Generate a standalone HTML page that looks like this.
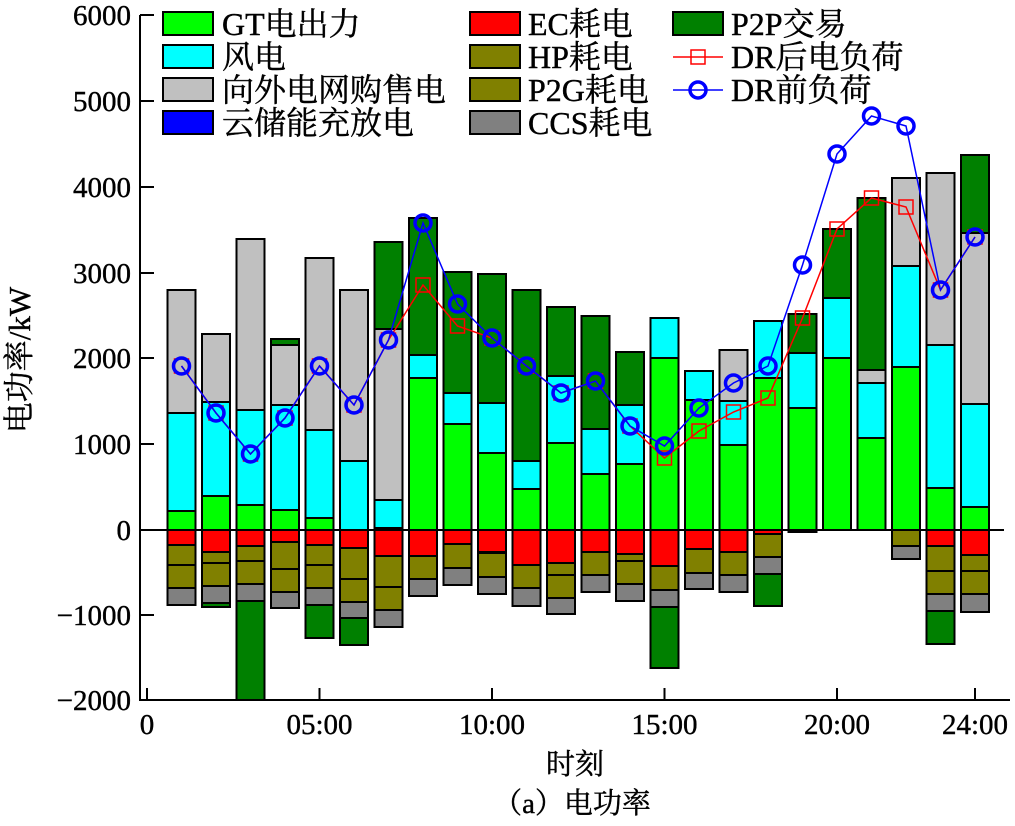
<!DOCTYPE html>
<html><head><meta charset="utf-8"><style>
html,body{margin:0;padding:0;background:#fff;}
svg text{font-family:"Liberation Serif","Noto Serif CJK SC","Noto Sans CJK SC",serif;fill:#000;}
</style></head><body>
<svg id="s" width="1015" height="821" xmlns="http://www.w3.org/2000/svg">
<g id="bars"></g>
<g id="lines"></g>
<line x1="140" y1="15" x2="140" y2="701" stroke="#000" stroke-width="2"/>
<line x1="139" y1="700" x2="1010" y2="700" stroke="#000" stroke-width="2"/>
<line x1="140" y1="530" x2="1004" y2="530" stroke="#000" stroke-width="2"/>
<g stroke="#000" stroke-width="2">
<line x1="140" y1="15" x2="154" y2="15"/>
<line x1="140" y1="101" x2="154" y2="101"/>
<line x1="140" y1="187" x2="154" y2="187"/>
<line x1="140" y1="273" x2="154" y2="273"/>
<line x1="140" y1="358" x2="154" y2="358"/>
<line x1="140" y1="444" x2="154" y2="444"/>
<line x1="140" y1="615" x2="154" y2="615"/>
<line x1="147" y1="688" x2="147" y2="700"/>
<line x1="319.5" y1="688" x2="319.5" y2="700"/>
<line x1="492" y1="688" x2="492" y2="700"/>
<line x1="664.5" y1="688" x2="664.5" y2="700"/>
<line x1="837" y1="688" x2="837" y2="700"/>
<line x1="975" y1="688" x2="975" y2="700"/>
</g>
<g font-size="29" text-anchor="end" stroke="#000" stroke-width="0.4">
<text x="131" y="25">6000</text>
<text x="131" y="111">5000</text>
<text x="131" y="197">4000</text>
<text x="131" y="283">3000</text>
<text x="131" y="368">2000</text>
<text x="131" y="454">1000</text>
<text x="131" y="540">0</text>
<text x="131" y="625">−1000</text>
<text x="131" y="710">−2000</text>
</g>
<g font-size="29" text-anchor="middle" stroke="#000" stroke-width="0.4">
<text x="147" y="734">0</text>
<text x="319.5" y="734">05:00</text>
<text x="492" y="734">10:00</text>
<text x="664.5" y="734">15:00</text>
<text x="837" y="734">20:00</text>
<text x="975" y="734">24:00</text>
<text x="575" y="774">时刻</text>
<text x="572" y="813">（a）电功率</text>
</g>
<text font-size="31" text-anchor="middle" stroke="#000" stroke-width="0.4" transform="translate(30,360) rotate(-90)">电功率/kW</text>
<g stroke="#000" stroke-width="2">
<rect x="163" y="12" width="50" height="23" fill="#00ff00"/>
<rect x="163" y="45" width="50" height="23" fill="#00ffff"/>
<rect x="163" y="78" width="50" height="23" fill="#c0c0c0"/>
<rect x="163" y="111" width="50" height="23" fill="#0000ff"/>
<rect x="470" y="12" width="50" height="23" fill="#ff0000"/>
<rect x="470" y="45" width="50" height="23" fill="#808000"/>
<rect x="470" y="78" width="50" height="23" fill="#808000"/>
<rect x="470" y="111" width="50" height="23" fill="#808080"/>
<rect x="673" y="12" width="50" height="23" fill="#008000"/>
</g>
<line x1="673" y1="57" x2="723" y2="57" stroke="#f00" stroke-width="1.5"/>
<rect x="691" y="50" width="14" height="14" fill="none" stroke="#f00" stroke-width="1.5"/>
<line x1="673" y1="90" x2="723" y2="90" stroke="#00f" stroke-width="1.5"/>
<circle cx="698" cy="90" r="8" fill="none" stroke="#00f" stroke-width="3.5"/>
<g font-size="32" stroke="#000" stroke-width="0.4">
<text x="222" y="35">GT电出力</text>
<text x="222" y="68">风电</text>
<text x="222" y="101">向外电网购售电</text>
<text x="222" y="134">云储能充放电</text>
<text x="528" y="35">EC耗电</text>
<text x="528" y="68">HP耗电</text>
<text x="528" y="101">P2G耗电</text>
<text x="528" y="134">CCS耗电</text>
<text x="731" y="35">P2P交易</text>
<text x="731" y="68">DR后电负荷</text>
<text x="731" y="101">DR前负荷</text>
</g>
</svg>
<script>
var pos=[[511,413,290,290],[496,402,334,334],[505,410,239,239],[510,405,345,339],[518,430,258,258],[530,461,290,290],[528,500,329,242],[378,355,355,218],[424,393,393,272],[453,403,403,274],[489,461,461,290],[443,376,376,307],[474,429,429,316],[464,405,405,352],[358,318,318,318],[400,371,371,371],[445,401,350,350],[378,321,321,321],[408,353,353,314],[358,298,298,229],[438,383,370,198],[367,266,178,178],[488,345,173,173],[507,404,233,155]];
var neg=[[545,565,588,605,605],[552,563,586,603,607],[546,561,584,601,700],[542,569,592,608,608],[545,565,588,605,638],[548,579,602,618,645],[556,587,610,627,627],[556,579,579,596,596],[544,568,568,585,585],[552,553,577,594,594],[565,588,588,606,606],[563,575,598,614,614],[552,575,575,592,592],[554,561,584,601,601],[566,590,590,607,668],[549,573,573,589,589],[552,575,575,592,592],[534,557,557,574,606],[530,530,530,530,532],[530,530,530,530,530],[530,530,530,530,530],[530,546,546,559,559],[546,571,594,611,644],[555,571,594,612,612]];
var pc=["#00ff00","#00ffff","#c0c0c0","#008000"],nc=["#ff0000","#808000","#808000","#808080","#008000"];
var blue=[366,413,454,418,366,405,340,223,304,338,366,393,381,426,446,408,383,366,265,154,116,126,290,237];
var red=[366,413,454,418,366,405,340,285,326,338,366,393,381,426,458,431,412,398,318,229,198,207,290,237];
var NS="http://www.w3.org/2000/svg",b=document.getElementById("bars"),l=document.getElementById("lines");
function R(x,y1,y2,c){if(Math.abs(y2-y1)<0.5)return;var r=document.createElementNS(NS,"rect");r.setAttribute("x",x);r.setAttribute("y",Math.min(y1,y2));r.setAttribute("width",28);r.setAttribute("height",Math.abs(y2-y1));r.setAttribute("fill",c);r.setAttribute("stroke","#000");r.setAttribute("stroke-width","2");b.appendChild(r);}
for(var i=0;i<24;i++){var cx=147+(i+1)*34.5,x=cx-14,p=530;for(var k=0;k<4;k++){R(x,p,pos[i][k],pc[k]);p=pos[i][k];}p=530;for(k=0;k<5;k++){R(x,p,neg[i][k],nc[k]);p=neg[i][k];}}
function line(arr,c){var pts=arr.map(function(y,i){return (147+(i+1)*34.5)+","+y}).join(" ");var pl=document.createElementNS(NS,"polyline");pl.setAttribute("points",pts);pl.setAttribute("fill","none");pl.setAttribute("stroke",c);pl.setAttribute("stroke-width","1.5");l.appendChild(pl);}
line(red,"#f00");
red.forEach(function(y,i){var r=document.createElementNS(NS,"rect");r.setAttribute("x",147+(i+1)*34.5-7);r.setAttribute("y",y-7);r.setAttribute("width",14);r.setAttribute("height",14);r.setAttribute("fill","none");r.setAttribute("stroke","#f00");r.setAttribute("stroke-width","1.5");l.appendChild(r);});
line(blue,"#00f");
blue.forEach(function(y,i){var c=document.createElementNS(NS,"circle");c.setAttribute("cx",147+(i+1)*34.5);c.setAttribute("cy",y);c.setAttribute("r",8);c.setAttribute("fill","none");c.setAttribute("stroke","#00f");c.setAttribute("stroke-width","3.5");l.appendChild(c);});
</script>
</body></html>
